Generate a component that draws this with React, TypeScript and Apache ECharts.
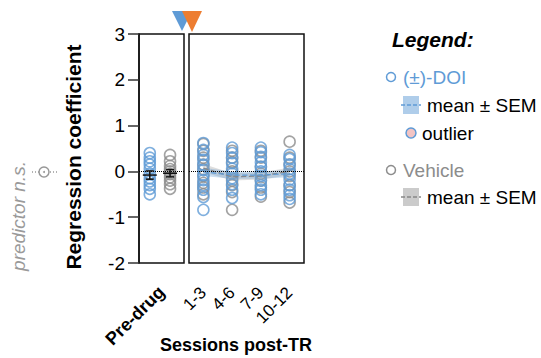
import React, { useEffect, useRef } from "react";
import * as echarts from "echarts";

const BLUE = "#5f9bd6";
const GRAY = "#8c8c8c";
const ORANGE = "#ed7d31";
const FONT = "Liberation Sans, Arial, sans-serif";

const yTicks = [-2, -1, 0, 1, 2, 3];
const preCategory = ["Pre-drug"];
const sessions = ["1-3", "4-6", "7-9", "10-12"];

// Pre-drug individual values
const doiPre = [0.4, 0.3, 0.22, 0.15, 0.06, -0.05, -0.15, -0.22, -0.3, -0.38, -0.5];
const vehPre = [0.36, 0.22, 0.12, 0.05, 0.0, -0.06, -0.13, -0.2, -0.28, -0.38];
const doiPreMean = -0.08;
const doiPreSem = 0.09;
const vehPreMean = -0.04;
const vehPreSem = 0.08;

// Post-TR sessions individual values
const doiSess = [
  [0.62, 0.47, 0.36, 0.25, 0.14, 0.03, -0.08, -0.19, -0.3, -0.4, -0.56, -0.84],
  [0.52, 0.4, 0.3, 0.18, 0.06, -0.05, -0.15, -0.28, -0.4, -0.58],
  [0.52, 0.42, 0.32, 0.2, 0.1, 0.0, -0.1, -0.2, -0.3, -0.4, -0.5],
  [0.36, 0.27, 0.15, 0.05, -0.05, -0.18, -0.3, -0.4, -0.52, -0.6],
];
const vehSess = [
  [0.6, 0.45, 0.3, 0.15, 0.05, -0.1, -0.25, -0.35, -0.5],
  [0.45, 0.3, 0.2, 0.0, -0.2, -0.3, -0.45, -0.84],
  [0.45, 0.3, 0.1, -0.05, -0.2, -0.35, -0.55],
  [0.65, 0.3, 0.15, 0.0, -0.1, -0.3, -0.45, -0.68],
];
const doiMean = [-0.01, -0.08, -0.08, -0.05];
const doiSem = [0.09, 0.08, 0.08, 0.08];
const vehMean = [0.07, -0.12, -0.1, 0.0];
const vehSem = [0.09, 0.08, 0.08, 0.08];

// x offsets of the two groups within the Pre-drug panel (0..1 hidden axis)
const PRE_X_DOI = 0.24;
const PRE_X_VEH = 0.69;

export default function App() {
  const ref = useRef<HTMLDivElement>(null);
  useEffect(() => {
    document.body.style.margin = "0";
    const chart = echarts.init(ref.current!, null, { renderer: "svg" });

    const pointStyle = (c: string) => ({
      color: "rgba(255,255,255,0)",
      borderColor: c,
      borderWidth: 1.6,
    });

    const errRender = (params: any, api: any) => {
      const x = api.value(0);
      const m = api.value(1);
      const s = api.value(2);
      const c = api.coord([x, m]);
      const t = api.coord([x, m + s]);
      const b = api.coord([x, m - s]);
      const st = { stroke: "#111", lineWidth: 1.5 };
      return {
        type: "group",
        children: [
          { type: "line", shape: { x1: c[0] - 7, y1: c[1], x2: c[0] + 7, y2: c[1] }, style: st },
          { type: "line", shape: { x1: c[0], y1: t[1], x2: c[0], y2: b[1] }, style: st },
          { type: "line", shape: { x1: c[0] - 4, y1: t[1], x2: c[0] + 4, y2: t[1] }, style: st },
          { type: "line", shape: { x1: c[0] - 4, y1: b[1], x2: c[0] + 4, y2: b[1] }, style: st },
        ],
      };
    };

    const zeroLine = {
      silent: true,
      symbol: "none",
      label: { show: false },
      lineStyle: { type: "dotted", color: "#000", width: 1 },
      data: [{ yAxis: 0 }],
    };

    const flat = (arr: number[][]) =>
      arr.flatMap((vals, i) => vals.map((v) => [sessions[i], v]));

    const bandSeries = (name: string, mean: number[], sem: number[], fill: string, line: string) => [
      {
        type: "line",
        name: name + "lo",
        xAxisIndex: 2,
        yAxisIndex: 1,
        stack: name,
        stackStrategy: "all",
        data: mean.map((m, i) => m - sem[i]),
        symbol: "none",
        lineStyle: { opacity: 0 },
        z: 3,
      },
      {
        type: "line",
        name: name + "band",
        xAxisIndex: 2,
        yAxisIndex: 1,
        stack: name,
        stackStrategy: "all",
        data: sem.map((s) => 2 * s),
        symbol: "none",
        lineStyle: { opacity: 0 },
        areaStyle: { color: fill },
        z: 3,
      },
      {
        type: "line",
        name: name + "mean",
        xAxisIndex: 2,
        yAxisIndex: 1,
        data: mean,
        symbol: "none",
        lineStyle: { color: line, width: 1.3, type: "dashed" },
        z: 4,
      },
    ];

    const gridBase = { show: true, borderColor: "#111", borderWidth: 1.5, backgroundColor: "transparent", top: 34, height: 229 };

    const legendX = 391;
    chart.setOption({
      animation: false,
      grid: [
        { ...gridBase, left: 139, width: 45 },
        { ...gridBase, left: 189, width: 115 },
      ],
      xAxis: [
        {
          type: "category",
          gridIndex: 0,
          data: preCategory,
          boundaryGap: true,
          axisLine: { show: false },
          axisTick: { alignWithLabel: true, length: 18, lineStyle: { color: "#444", width: 1.5 } },
          axisLabel: { rotate: 45, margin: 26, fontSize: 18, fontWeight: "bold", color: "#000", fontFamily: FONT },
        },
        { type: "value", gridIndex: 0, min: 0, max: 1, show: false },
        {
          type: "category",
          gridIndex: 1,
          data: sessions,
          boundaryGap: true,
          axisLine: { show: false },
          axisTick: { alignWithLabel: true, length: 18, lineStyle: { color: "#444", width: 1.5 } },
          axisLabel: { rotate: 45, margin: 27, fontSize: 17, color: "#000", fontFamily: FONT, interval: 0 },
        },
      ],
      yAxis: [
        {
          type: "value",
          gridIndex: 0,
          min: yTicks[0],
          max: yTicks[yTicks.length - 1],
          interval: 1,
          splitLine: { show: false },
          axisLine: { show: true, lineStyle: { color: "#111", width: 1.5 } },
          axisTick: { show: true, length: 11, lineStyle: { color: "#333", width: 1.5 } },
          axisLabel: { fontSize: 19, color: "#000", margin: 14, fontFamily: FONT },
        },
        {
          type: "value",
          gridIndex: 1,
          min: yTicks[0],
          max: yTicks[yTicks.length - 1],
          interval: 1,
          show: false,
          splitLine: { show: false },
        },
      ],
      series: [
        {
          type: "scatter",
          xAxisIndex: 1,
          yAxisIndex: 0,
          symbol: "circle",
          symbolSize: 11,
          itemStyle: pointStyle(GRAY),
          data: vehPre.map((v) => [PRE_X_VEH, v]),
          markLine: zeroLine,
          z: 2,
        },
        {
          type: "scatter",
          xAxisIndex: 1,
          yAxisIndex: 0,
          symbol: "circle",
          symbolSize: 11,
          itemStyle: pointStyle(BLUE),
          data: doiPre.map((v) => [PRE_X_DOI, v]),
          z: 2,
        },
        {
          type: "custom",
          xAxisIndex: 1,
          yAxisIndex: 0,
          renderItem: errRender,
          data: [
            [PRE_X_DOI, doiPreMean, doiPreSem],
            [PRE_X_VEH, vehPreMean, vehPreSem],
          ],
          z: 5,
        },
        {
          type: "scatter",
          xAxisIndex: 2,
          yAxisIndex: 1,
          symbol: "circle",
          symbolSize: 11,
          itemStyle: pointStyle(GRAY),
          data: flat(vehSess),
          markLine: zeroLine,
          z: 2,
        },
        {
          type: "scatter",
          xAxisIndex: 2,
          yAxisIndex: 1,
          symbol: "circle",
          symbolSize: 11,
          itemStyle: pointStyle(BLUE),
          data: flat(doiSess),
          z: 2,
        },
        ...bandSeries("veh", vehMean, vehSem, "rgba(160,160,160,0.5)", "#888"),
        ...bandSeries("doi", doiMean, doiSem, "rgba(95,155,214,0.45)", BLUE),
      ],
      graphic: [
        // treatment triangles
        { type: "polygon", shape: { points: [[172, 11], [192, 11], [182, 31]] }, style: { fill: BLUE } },
        { type: "polygon", shape: { points: [[182, 11], [202, 11], [192, 32]] }, style: { fill: ORANGE } },
        // y-axis title
        {
          type: "text",
          x: 73,
          y: 157,
          rotation: Math.PI / 2,
          style: { text: "Regression coefficient", fontSize: 21, fontWeight: "bold", fill: "#000", fontFamily: FONT, align: "center", verticalAlign: "middle" },
        },
        // predictor n.s.
        {
          type: "text",
          x: 18,
          y: 216,
          rotation: Math.PI / 2,
          style: { text: "predictor n.s.", fontSize: 19, fontStyle: "italic", fill: "#9a9a9a", fontFamily: FONT, align: "center", verticalAlign: "middle" },
        },
        { type: "line", shape: { x1: 32, y1: 172, x2: 58, y2: 172 }, style: { stroke: "#999", lineWidth: 1.5, lineDash: [1, 2] } },
        { type: "circle", shape: { cx: 44, cy: 172, r: 5 }, style: { fill: "#fff", stroke: "#999", lineWidth: 1.5 } },
        { type: "circle", shape: { cx: 44, cy: 172, r: 1 }, style: { fill: "#999" } },
        // x title
        {
          type: "text",
          x: 236,
          y: 345,
          style: { text: "Sessions post-TR", fontSize: 18, fontWeight: "bold", fill: "#000", fontFamily: FONT, align: "center", verticalAlign: "middle" },
        },
        // legend
        {
          type: "text",
          x: 392,
          y: 39,
          style: { text: "Legend:", fontSize: 21, fontWeight: "bold", fontStyle: "italic", fill: "#000", fontFamily: FONT, align: "left", verticalAlign: "middle" },
        },
        { type: "circle", shape: { cx: legendX, cy: 77, r: 4.5 }, style: { fill: "#fff", stroke: BLUE, lineWidth: 1.5 } },
        {
          type: "text",
          x: 403,
          y: 77,
          style: { text: "(±)-DOI", fontSize: 19, fill: BLUE, fontFamily: FONT, align: "left", verticalAlign: "middle" },
        },
        { type: "rect", shape: { x: 403, y: 96, width: 16, height: 18 }, style: { fill: "rgba(95,155,214,0.5)" } },
        { type: "line", shape: { x1: 401, y1: 105, x2: 421, y2: 105 }, style: { stroke: BLUE, lineWidth: 1.3, lineDash: [4, 2] } },
        {
          type: "text",
          x: 427,
          y: 105,
          style: { text: "mean ± SEM", fontSize: 19, fill: "#000", fontFamily: FONT, align: "left", verticalAlign: "middle" },
        },
        { type: "circle", shape: { cx: 411, cy: 133, r: 5 }, style: { fill: "#f2c4c4", stroke: BLUE, lineWidth: 1.5 } },
        {
          type: "text",
          x: 422,
          y: 133,
          style: { text: "outlier", fontSize: 19, fill: "#000", fontFamily: FONT, align: "left", verticalAlign: "middle" },
        },
        { type: "circle", shape: { cx: legendX, cy: 170, r: 4.5 }, style: { fill: "#fff", stroke: GRAY, lineWidth: 1.5 } },
        {
          type: "text",
          x: 403,
          y: 170,
          style: { text: "Vehicle", fontSize: 19, fill: GRAY, fontFamily: FONT, align: "left", verticalAlign: "middle" },
        },
        { type: "rect", shape: { x: 403, y: 188, width: 16, height: 18 }, style: { fill: "rgba(160,160,160,0.55)" } },
        { type: "line", shape: { x1: 401, y1: 197, x2: 421, y2: 197 }, style: { stroke: "#888", lineWidth: 1.3, lineDash: [4, 2] } },
        {
          type: "text",
          x: 427,
          y: 197,
          style: { text: "mean ± SEM", fontSize: 19, fill: "#000", fontFamily: FONT, align: "left", verticalAlign: "middle" },
        },
      ],
    });
    return () => chart.dispose();
  }, []);
  return <div ref={ref} style={{ width: 541, height: 358 }} />;
}
